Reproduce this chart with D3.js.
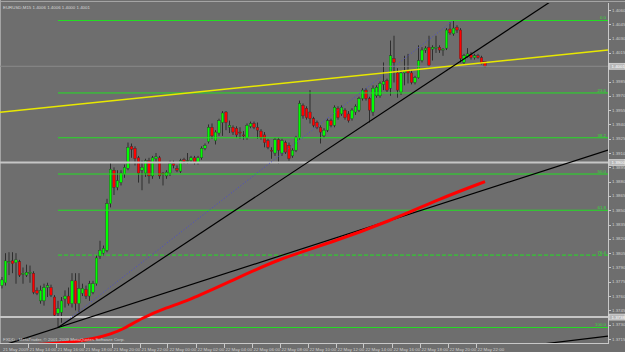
<!DOCTYPE html>
<html>
<head>
<meta charset="utf-8">
<script src="https://cdn.jsdelivr.net/npm/d3@7"></script>
<style>
   body { margin: 0; background: #6e6e6e; }
   svg { display: block; }
   text { font-family: "Liberation Sans", Arial, sans-serif; }
</style>
</head>
<body>
<div id="chart"></div>
<script>
// EURUSD M15, one candle per bar, bar 0 = 21 May 2009 12:15
const barOpen = [
   1.3771,1.3774,1.3795,1.3797,1.3795,1.3796,1.3783,1.3782,1.3784,1.3784,
   1.3766,1.3755,1.3755,1.3769,1.3769,1.3759,1.3742,1.3743,1.3757,1.3760,
   1.3752,1.3776,1.3752,1.3763,1.3767,1.3760,1.3764,1.3773,1.3802,1.3805,
   1.3808,1.3857,1.3892,1.3874,1.3879,1.3888,1.3894,1.3917,1.3915,1.3905,
   1.3892,1.3889,1.3902,1.3886,1.3904,1.3905,1.3889,1.3886,1.3889,1.3899,
   1.3894,1.3891,1.3903,1.3901,1.3902,1.3905,1.3900,1.3905,1.3915,1.3922,
   1.3937,1.3923,1.3931,1.3942,1.3953,1.3937,1.3937,1.3936,1.3932,1.3929,
   1.3926,1.3938,1.3941,1.3937,1.3933,1.3929,1.3923,1.3913,1.3910,1.3924,
   1.3910,1.3921,1.3918,1.3907,1.3913,1.3926,1.3960,1.3957,1.3953,1.3946,
   1.3942,1.3937,1.3928,1.3934,1.3944,1.3939,1.3957,1.3951,1.3955,1.3951,
   1.3946,1.3953,1.3955,1.3967,1.3976,1.3967,1.3953,1.3970,1.3970,1.3982,
   1.3986,1.3978,1.4009,1.3994,1.3974,1.3994,1.3996,1.3994,1.3984,1.3989,
   1.4007,1.4018,1.4021,1.4019,1.4020,1.4021,1.4018,1.4020,1.4040,1.4035,
   1.4042,1.4039,1.4005,1.4011,1.4013,1.4010,1.4012,1.4010,1.4006
]
const barHigh = [
   1.3780,1.3805,1.3806,1.3806,1.3805,1.3798,1.3790,1.3793,1.3792,1.3786,
   1.3769,1.3771,1.3773,1.3774,1.3772,1.3761,1.3755,1.3759,1.3766,1.3769,
   1.3784,1.3784,1.3784,1.3773,1.3771,1.3776,1.3776,1.3803,1.3818,1.3813,
   1.3862,1.3900,1.3895,1.3892,1.3892,1.3898,1.3921,1.3920,1.3917,1.3907,
   1.3902,1.3904,1.3905,1.3907,1.3910,1.3907,1.3890,1.3892,1.3902,1.3902,
   1.3897,1.3904,1.3905,1.3910,1.3907,1.3907,1.3907,1.3917,1.3920,1.3940,
   1.3941,1.3934,1.3946,1.3954,1.3954,1.3944,1.3939,1.3938,1.3937,1.3933,
   1.3941,1.3943,1.3943,1.3942,1.3935,1.3932,1.3925,1.3916,1.3926,1.3926,
   1.3925,1.3923,1.3921,1.3915,1.3928,1.3965,1.3962,1.3959,1.3976,1.3948,
   1.3944,1.3939,1.3936,1.3946,1.3946,1.3960,1.3959,1.3960,1.3957,1.3954,
   1.3957,1.3961,1.3969,1.3978,1.3978,1.3969,1.3981,1.3981,1.3985,1.4005,
   1.3988,1.4028,1.4033,1.3999,1.3997,1.4012,1.4014,1.3997,1.3991,1.4023,
   1.4021,1.4022,1.4033,1.4023,1.4033,1.4023,1.4020,1.4041,1.4047,1.4049,
   1.4044,1.4041,1.4014,1.4020,1.4016,1.4014,1.4014,1.4012,1.4006
]
const barLow = [
   1.3768,1.3771,1.3782,1.3784,1.3773,1.3780,1.3773,1.3780,1.3774,1.3762,
   1.3761,1.3752,1.3750,1.3759,1.3759,1.3737,1.3727,1.3732,1.3748,1.3750,
   1.3748,1.3745,1.3743,1.3760,1.3757,1.3755,1.3762,1.3771,1.3799,1.3802,
   1.3806,1.3853,1.3866,1.3871,1.3876,1.3884,1.3892,1.3905,1.3897,1.3879,
   1.3871,1.3885,1.3878,1.3883,1.3900,1.3883,1.3876,1.3883,1.3886,1.3894,
   1.3890,1.3889,1.3899,1.3899,1.3900,1.3898,1.3898,1.3903,1.3913,1.3920,
   1.3925,1.3919,1.3928,1.3928,1.3934,1.3931,1.3929,1.3926,1.3925,1.3924,
   1.3924,1.3936,1.3935,1.3925,1.3924,1.3916,1.3914,1.3904,1.3907,1.3899,
   1.3907,1.3909,1.3902,1.3905,1.3911,1.3924,1.3946,1.3945,1.3941,1.3937,
   1.3935,1.3920,1.3926,1.3932,1.3937,1.3937,1.3945,1.3949,1.3945,1.3942,
   1.3944,1.3950,1.3953,1.3965,1.3965,1.3942,1.3949,1.3968,1.3968,1.3976,
   1.3974,1.3970,1.3984,1.3968,1.3971,1.3981,1.3983,1.3982,1.3982,1.3988,
   1.4005,1.4015,1.4000,1.4007,1.4015,1.4015,1.4012,1.4018,1.4034,1.4033,
   1.4036,1.4005,1.4003,1.4010,1.4008,1.4008,1.4009,1.4003,1.4000
]
const barClose = [
   1.3777,1.3797,1.3796,1.3794,1.3798,1.3782,1.3784,1.3785,1.3785,1.3764,
   1.3763,1.3766,1.3769,1.3771,1.3761,1.3740,1.3747,1.3755,1.3760,1.3752,
   1.3776,1.3752,1.3768,1.3768,1.3760,1.3773,1.3773,1.3800,1.3808,1.3810,
   1.3857,1.3893,1.3874,1.3881,1.3889,1.3895,1.3916,1.3914,1.3904,1.3889,
   1.3895,1.3902,1.3886,1.3905,1.3906,1.3886,1.3888,1.3890,1.3899,1.3897,
   1.3892,1.3902,1.3901,1.3902,1.3905,1.3900,1.3905,1.3915,1.3918,1.3937,
   1.3928,1.3932,1.3944,1.3952,1.3942,1.3939,1.3932,1.3929,1.3931,1.3928,
   1.3939,1.3941,1.3937,1.3934,1.3926,1.3921,1.3916,1.3912,1.3924,1.3913,
   1.3923,1.3911,1.3904,1.3913,1.3926,1.3962,1.3949,1.3947,1.3946,1.3939,
   1.3937,1.3932,1.3934,1.3944,1.3939,1.3958,1.3947,1.3958,1.3947,1.3944,
   1.3955,1.3959,1.3967,1.3976,1.3967,1.3955,1.3978,1.3979,1.3983,1.3985,
   1.3976,1.4012,1.4005,1.3976,1.3994,1.3996,1.3994,1.3984,1.3989,1.4007,
   1.4018,1.4020,1.4002,1.4021,1.4021,1.4018,1.4019,1.4039,1.4036,1.4041,
   1.4039,1.4009,1.4012,1.4014,1.4010,1.4012,1.4010,1.4004,1.4001
]

// thick red moving average, read at a few bars
const maBars = [3, 11, 19, 27, 31, 35, 40, 47, 53, 65, 79, 94, 111, 125, 138]
const maValues = [1.3706, 1.3710, 1.3711, 1.3716, 1.3720, 1.3726, 1.3737, 1.3748, 1.3755,
   1.3775, 1.3799, 1.3816, 1.3839, 1.3862, 1.3880]

// fibonacci retracement from the low (bar 16) to the high (bar 129)
const fibLevels = [0, 23.6, 38.2, 50, 61.8, 76.4, 100]
const fibLabels = ["0.0", "23.6", "38.2", "50.0", "61.8", "76.4", "100.0"]
const fibLowBar = 16, fibLow = 1.3727
const fibHighBar = 129, fibHigh = 1.4049

// horizontal lines and bid
const hLinePrices = [1.3900, 1.3738]
const hLineLabels = ["1.3900", "1.3738"]
const bidPrice = 1.4001

// trend lines: [bar, price] pairs
const trendSteep = [[16, 1.3727], [156, 1.4067]]
const trendShallow = [[16, 1.3727], [173, 1.3913]]
const trendYellow = [[0, 1.3953], [173, 1.4018]]
const trendLower = [[155, 1.3710], [173, 1.3718]]

// axis labels
const priceTicks = [1.4060, 1.4045, 1.4030, 1.4015, 1.3985, 1.3970, 1.3955, 1.3940, 1.3925, 1.3910,
   1.3895, 1.3880, 1.3865, 1.3850, 1.3835, 1.3820, 1.3805, 1.3790, 1.3775, 1.3760, 1.3745, 1.3730, 1.3715]
const timeTickBars = [7, 15, 23, 31, 39, 47, 55, 63, 71, 79, 87, 95, 103, 111, 119, 127, 135]
const timeTickLabels = ["21 May 14:00", "21 May 16:00", "21 May 18:00", "21 May 20:00", "21 May 22:00",
   "22 May 00:00", "22 May 02:00", "22 May 04:00", "22 May 06:00", "22 May 08:00", "22 May 10:00",
   "22 May 12:00", "22 May 14:00", "22 May 16:00", "22 May 18:00", "22 May 20:00", "22 May 22:00"]
const firstDateLabel = "21 May 2009"
const titleText = "EURUSD,M15  1.4006 1.4006 1.4000 1.4001"
const footerText = "FXDD - MetaTrader, \u00a9 2001-2009 MetaQuotes Software Corp."

// Layout
const width = 625, height = 352
const plot = { left: 0, right: 608, top: 3, bottom: 343 }
const axisColor = "#c8c8c8"
const fontSize = 4.4

const x = d3.scaleLinear().domain([0, 173]).range([2, 2 + 3.5 * 173])
const y = d3.scaleLinear().domain([1.3715, 1.4060]).range([339, 10])

const svg = d3.select("#chart").append("svg")
   .attr("width", width)
   .attr("height", height)

svg.append("rect")
   .attr("width", width).attr("height", height)
   .attr("fill", "#6e6e6e")

// window frame
svg.append("line").attr("x1", 0).attr("x2", width).attr("y1", 1.5).attr("y2", 1.5)
   .attr("stroke", "#a4a4a4")
svg.append("line").attr("x1", 0.5).attr("x2", 0.5).attr("y1", 0).attr("y2", plot.bottom)
   .attr("stroke", "#a4a4a4")

svg.append("clipPath").attr("id", "plotClip")
   .append("rect")
   .attr("x", plot.left).attr("y", plot.top)
   .attr("width", plot.right - plot.left).attr("height", plot.bottom - plot.top)

const g = svg.append("g").attr("clip-path", "url(#plotClip)")

// Candles
const bars = d3.range(barClose.length).map(function(i) {
   return { i: i, o: barOpen[i], h: barHigh[i], l: barLow[i], c: barClose[i] }
})

g.selectAll("line.wick").data(bars).enter().append("line")
   .attr("class", "wick")
   .attr("x1", function(d) { return x(d.i) })
   .attr("x2", function(d) { return x(d.i) })
   .attr("y1", function(d) { return y(d.h) })
   .attr("y2", function(d) { return y(d.l) })
   .attr("stroke", "#2e2e2e")
   .attr("stroke-width", 1)

g.selectAll("rect.body").data(bars).enter().append("rect")
   .attr("class", "body")
   .attr("x", function(d) { return x(d.i) - 1.3 })
   .attr("width", 2.6)
   .attr("y", function(d) { return y(Math.max(d.o, d.c)) })
   .attr("height", function(d) { return Math.max(1, Math.abs(y(d.o) - y(d.c))) })
   .attr("fill", function(d) {
      if(d.c > d.o) return "#00ff00"
      if(d.c < d.o) return "#ff0000"
      return "#2e2e2e"
   })
   .attr("stroke", "#333")
   .attr("stroke-width", 0.4)

// Horizontal gray lines and bid line
g.selectAll("line.hline").data(hLinePrices).enter().append("line")
   .attr("class", "hline")
   .attr("x1", plot.left).attr("x2", plot.right)
   .attr("y1", function(d) { return y(d) })
   .attr("y2", function(d) { return y(d) })
   .attr("stroke", "#c6c6c6")
   .attr("stroke-width", 2)

g.append("line")
   .attr("x1", plot.left).attr("x2", plot.right)
   .attr("y1", y(bidPrice)).attr("y2", y(bidPrice))
   .attr("stroke", "#8a8a8a")
   .attr("stroke-width", 1)

// Fibonacci levels
const fibData = fibLevels.map(function(lv, k) {
   return { price: fibHigh - (fibHigh - fibLow) * lv / 100, label: fibLabels[k], level: lv }
})

g.selectAll("line.fib").data(fibData).enter().append("line")
   .attr("class", "fib")
   .attr("x1", x(fibLowBar)).attr("x2", plot.right)
   .attr("y1", function(d) { return y(d.price) })
   .attr("y2", function(d) { return y(d.price) })
   .attr("stroke", "#22e022")
   .attr("stroke-width", 1)
   .attr("stroke-dasharray", function(d) { return d.level == 76.4 ? "4,2" : null })

g.selectAll("text.fib").data(fibData).enter().append("text")
   .attr("class", "fib")
   .attr("x", plot.right - 2)
   .attr("y", function(d) { return y(d.price) - 1.2 })
   .attr("text-anchor", "end")
   .attr("font-size", fontSize)
   .attr("fill", "#33dd33")
   .text(function(d) { return d.label })

// Fibonacci base line (dotted blue)
g.append("line")
   .attr("x1", x(fibLowBar)).attr("y1", y(fibLow))
   .attr("x2", x(fibHighBar)).attr("y2", y(fibHigh))
   .attr("stroke", "#4a4ad0")
   .attr("stroke-width", 1)
   .attr("stroke-dasharray", "1,2")

// Trend lines
function extend(pts, fromStart) {
   let x1 = x(pts[0][0]), y1 = y(pts[0][1])
   let x2 = x(pts[1][0]), y2 = y(pts[1][1])
   let slope = (y2 - y1) / (x2 - x1)
   let xa = fromStart ? x1 : plot.left
   let xb = plot.right
   return [[xa, y1 + slope * (xa - x1)], [xb, y1 + slope * (xb - x1)]]
}

function drawTrend(pts, fromStart, color, w) {
   let seg = extend(pts, fromStart)
   g.append("line")
      .attr("x1", seg[0][0]).attr("y1", seg[0][1])
      .attr("x2", seg[1][0]).attr("y2", seg[1][1])
      .attr("stroke", color)
      .attr("stroke-width", w)
}

drawTrend(trendYellow, false, "#e8e800", 1.5)
drawTrend(trendShallow, false, "#000000", 1.2)
drawTrend(trendSteep, true, "#000000", 1.2)
drawTrend(trendLower, false, "#000000", 1.2)

// Moving average
const maLine = d3.line()
   .x(function(d) { return x(d[0]) })
   .y(function(d) { return y(d[1]) })
   .curve(d3.curveBasis)

g.append("path")
   .datum(maBars.map(function(b, k) { return [b, maValues[k]] }))
   .attr("d", maLine)
   .attr("fill", "none")
   .attr("stroke", "#ff0000")
   .attr("stroke-width", 3)

// Axes
svg.append("line")
   .attr("x1", plot.right + 0.5).attr("x2", plot.right + 0.5)
   .attr("y1", plot.top).attr("y2", plot.bottom + 1)
   .attr("stroke", axisColor)
svg.append("line")
   .attr("x1", plot.left).attr("x2", plot.right + 0.5)
   .attr("y1", plot.bottom + 0.5).attr("y2", plot.bottom + 0.5)
   .attr("stroke", axisColor)

svg.selectAll("line.ptick").data(priceTicks).enter().append("line")
   .attr("class", "ptick")
   .attr("x1", plot.right + 0.5).attr("x2", plot.right + 3)
   .attr("y1", function(d) { return Math.round(y(d)) + 0.5 })
   .attr("y2", function(d) { return Math.round(y(d)) + 0.5 })
   .attr("stroke", axisColor)

svg.selectAll("text.ptick").data(priceTicks).enter().append("text")
   .attr("class", "ptick")
   .attr("x", plot.right + 4)
   .attr("y", function(d) { return y(d) })
   .attr("dy", "0.35em")
   .attr("font-size", fontSize)
   .attr("fill", "#d0d0d0")
   .text(function(d) { return d.toFixed(4) })

// price boxes for horizontal lines and bid
const boxes = hLinePrices.map(function(p, k) { return { p: p, t: hLineLabels[k] } })
boxes.push({ p: bidPrice, t: bidPrice.toFixed(4) })

const box = svg.selectAll("g.pbox").data(boxes).enter().append("g")
   .attr("class", "pbox")
   .attr("transform", function(d) { return "translate(" + (plot.right + 1) + "," + y(d.p) + ")" })
box.append("rect")
   .attr("x", 0).attr("y", -3)
   .attr("width", 16).attr("height", 6)
   .attr("fill", "#b8b8b8")
   .attr("stroke", "#e8e8e8")
   .attr("stroke-width", 0.6)
box.append("text")
   .attr("x", 2.5).attr("dy", "0.35em")
   .attr("font-size", fontSize)
   .attr("fill", "#ffffff")
   .text(function(d) { return d.t })

svg.selectAll("line.ttick").data(timeTickBars).enter().append("line")
   .attr("class", "ttick")
   .attr("x1", function(d) { return Math.round(x(d) + 1) + 0.5 })
   .attr("x2", function(d) { return Math.round(x(d) + 1) + 0.5 })
   .attr("y1", plot.bottom).attr("y2", plot.bottom + 5)
   .attr("stroke", axisColor)

svg.selectAll("text.ttick").data(timeTickBars).enter().append("text")
   .attr("class", "ttick")
   .attr("x", function(d) { return x(d) + 3 })
   .attr("y", plot.bottom + 7.5)
   .attr("font-size", fontSize)
   .attr("fill", "#d0d0d0")
   .text(function(d, k) { return timeTickLabels[k] })

svg.append("text")
   .attr("x", 3).attr("y", plot.bottom + 7.5)
   .attr("font-size", fontSize)
   .attr("fill", "#d0d0d0")
   .text(firstDateLabel)

// Title and footer
svg.append("text")
   .attr("x", 3).attr("y", 8.5)
   .attr("font-size", fontSize)
   .attr("fill", "#d8d8d8")
   .text(titleText)

svg.append("text")
   .attr("x", 3).attr("y", plot.bottom - 2)
   .attr("font-size", fontSize)
   .attr("fill", "#d0d0d0")
   .text(footerText)
</script>
</body>
</html>
